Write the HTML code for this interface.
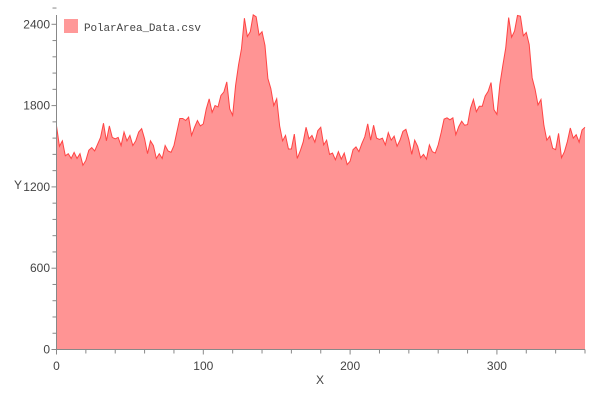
<!DOCTYPE html>
<html><head><meta charset="utf-8"><style>
html,body{margin:0;padding:0;background:#fff;}
svg text{font-family:"Liberation Sans","WenQuanYi Zen Hei",sans-serif;fill:#444;}
</style></head><body>
<svg id="chart" width="600" height="400" xmlns="http://www.w3.org/2000/svg">
<g id="plot"></g>
<g id="axes"></g>
<g>
<rect x="64" y="19" width="14" height="14" fill="#ff9999"/>
<text x="84" y="31" font-size="11" textLength="117" style="font-family:'WenQuanYi Zen Hei','Liberation Mono',monospace">PolarArea_Data.csv</text>
</g>
<text x="320" y="384" font-size="12" text-anchor="middle">X</text>
<text x="18" y="189" font-size="12" text-anchor="middle">Y</text>
</svg>
<script>
const xStart = 0, xStep = 2;
const yValues = [1650,1500,1540,1430,1445,1410,1455,1410,1445,1360,1395,1470,1490,1465,1515,1565,1670,1540,1650,1565,1555,1565,1505,1605,1540,1580,1505,1540,1605,1630,1555,1445,1540,1505,1410,1445,1410,1505,1465,1455,1505,1605,1705,1705,1690,1715,1580,1640,1690,1650,1665,1775,1850,1750,1800,1790,1875,1900,1975,1775,1728,1950,2100,2220,2445,2310,2345,2470,2455,2320,2345,2245,2000,1925,1800,1850,1650,1540,1580,1480,1480,1590,1410,1465,1530,1640,1555,1580,1530,1615,
1640,1510,1545,1440,1450,1400,1460,1405,1450,1365,1390,1475,1495,1460,1520,1570,1665,1545,1655,1560,1550,1560,1510,1600,1545,1575,1500,1545,1610,1625,1550,1440,1545,1500,1415,1440,1405,1510,1460,1450,1510,1600,1700,1710,1695,1710,1585,1645,1685,1655,1660,1780,1845,1755,1795,1795,1870,1905,1970,1770,1735,1955,2095,2225,2450,2305,2350,2465,2460,2315,2340,2250,2005,1920,1805,1845,1655,1545,1575,1485,1475,1595,1415,1460,1535,1635,1560,1585,1530,1620,1640];
const xTicks = [0,100,200,300];
const yTicks = [0,600,1200,1800,2400];
const X0=56.5, XS=528.5/360, Y0=349.5, YS=81.3/600;
const sx = v => X0 + v*XS, sy = v => Y0 - v*YS;
const NS='http://www.w3.org/2000/svg';
const plot=document.getElementById('plot'), axes=document.getElementById('axes');
let d=`M${sx(xStart)},${sy(0)}`;
yValues.forEach((v,i)=>{d+=` L${sx(xStart+i*xStep).toFixed(2)},${sy(v).toFixed(2)}`;});
d+=` L${sx(xStart+(yValues.length-1)*xStep)},${sy(0)} Z`;
const area=document.createElementNS(NS,'path');


area.setAttribute('d',d);area.setAttribute('fill','#ff9494');area.setAttribute('stroke','none');
plot.appendChild(area);
let ld='';
yValues.forEach((v,i)=>{ld+=(i?' L':'M')+sx(xStart+i*xStep).toFixed(2)+','+sy(v).toFixed(2);});
const line=document.createElementNS(NS,'path');


line.setAttribute('d',ld);line.setAttribute('fill','none');line.setAttribute('stroke','#ff4444');line.setAttribute('stroke-width','1');
plot.appendChild(line);
function ln(x1,y1,x2,y2,name){const l=document.createElementNS(NS,'line');


l.setAttribute('x1',x1);l.setAttribute('y1',y1);l.setAttribute('x2',x2);l.setAttribute('y2',y2);l.setAttribute('stroke','#888');axes.appendChild(l);}
ln(X0,15,X0,Y0,'y-axis-line');ln(X0,Y0,585,Y0,'x-axis-line');
for(let v=0;v<=360;v+=20){ln(sx(v),Y0,sx(v),Y0+(v%100===0?5:4),'x-tick');}
for(let v=0;v<=2520;v+=120){ln(X0,sy(v),X0-(v%600===0?5:4),sy(v),'y-tick');}
xTicks.forEach(v=>{const t=document.createElementNS(NS,'text');


t.setAttribute('x',sx(v));t.setAttribute('y',370);t.setAttribute('font-size','12');t.setAttribute('text-anchor','middle');t.textContent=v;axes.appendChild(t);});
yTicks.forEach(v=>{const t=document.createElementNS(NS,'text');


t.setAttribute('x',50);t.setAttribute('y',sy(v)+4);t.setAttribute('font-size','12');t.setAttribute('text-anchor','end');t.textContent=v;axes.appendChild(t);});
</script>
</body></html>
